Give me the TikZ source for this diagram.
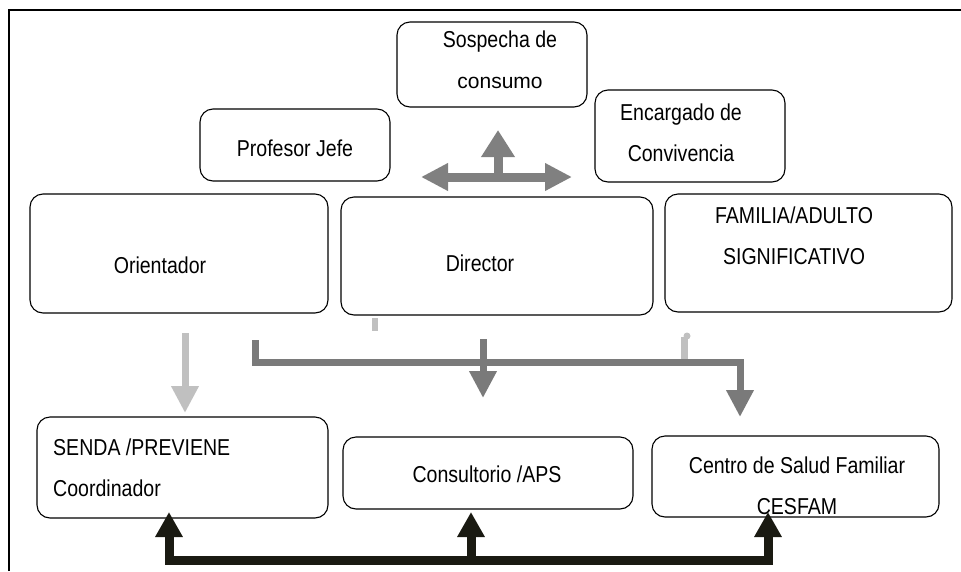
\documentclass[tikz,border=0pt]{standalone}
\usepackage{fontspec}
\setmainfont{Liberation Sans}[FakeStretch=0.85]
\newfontfamily\plainfont{Liberation Sans}
\usetikzlibrary{arrows.meta}
\definecolor{midgray}{HTML}{808080}
\definecolor{darkgray2}{HTML}{7A7A7A}
\definecolor{lightgray2}{HTML}{C0C0C0}
\definecolor{nearblack}{HTML}{1A1A12}
\tikzset{
  Gtip/.tip={Triangle[width=26pt,length=27pt]},
  Utip/.tip={Triangle[width=32pt,length=27pt]},
  Btip/.tip={Triangle[width=26pt,length=25pt]}}
\begin{document}
\begin{tikzpicture}[x=1pt,y=-1pt,
  box/.style={draw=black, line width=1.1pt, rounded corners=13pt, inner sep=0pt},
  txt/.style={font=\fontsize{23}{41}\selectfont, inner sep=0pt, align=center},
  ltxt/.style={font=\fontsize{23}{41}\selectfont, inner sep=0pt, align=left},
  grayarrow/.style={draw=midgray, line width=9pt},
  darkarrow/.style={draw=darkgray2, line width=7pt},
  lightarrow/.style={draw=lightgray2, line width=7pt},
  blackarrow/.style={draw=nearblack, line width=9pt}]
\useasboundingbox (0,0) rectangle (961,571);
% frame
\draw[line width=2pt] (9,571) -- (9,10) -- (961,10);
% boxes
\node[box, minimum width=190pt, minimum height=85pt] (sosp) at (492,64.5) {};
\node[box, minimum width=190pt, minimum height=72pt] (prof) at (295,145) {};
\node[box, minimum width=190pt, minimum height=92pt] (enc) at (690,136) {};
\node[box, minimum width=298pt, minimum height=119pt] (ori) at (179,253.5) {};
\node[box, minimum width=312pt, minimum height=118pt] (dir) at (497,256) {};
\node[box, minimum width=287pt, minimum height=118pt] (fam) at (808.5,253) {};
\node[box, minimum width=291pt, minimum height=101pt] (senda) at (182.5,467.5) {};
\node[box, minimum width=290pt, minimum height=72pt] (cons) at (488,473) {};
\node[box, minimum width=287pt, minimum height=81pt] (cent) at (795.5,476.5) {};
% texts
\node[txt] (tsosp) at (500,59.5) {Sospecha de\\{\plainfont\fontsize{21}{41}\selectfont consumo}};
\node[txt] (tprof) at (295,148) {Profesor Jefe};
\node[txt] (tenc) at (681,132.5) {Encargado de\\Convivencia};
\node[txt] (tori) at (160,265) {Orientador};
\node[txt] (tdir) at (480,263) {Director};
\node[txt] (tfam) at (794,236) {FAMILIA/ADULTO\\SIGNIFICATIVO};
\node[ltxt, anchor=west] (tsenda) at (53,467.5) {SENDA /PREVIENE\\Coordinador};
\node[txt] (tcons) at (487,474) {Consultorio /APS};
\node[txt] (tcent) at (797,486) {Centro de Salud Familiar\\CESFAM};
% gray cross arrows near top
\coordinate (hub) at (498,177);
\coordinate (hl) at (421,177);
\coordinate (hr) at (572,177);
\coordinate (hu) at (498,130);
\draw[grayarrow, Gtip-Gtip] (hl) -- (hr);
\draw[grayarrow, -Utip] (hub) -- (hu);
% light gray pieces
\coordinate (o1) at (185,333);
\coordinate (o2) at (185,413);
\draw[lightarrow, -Gtip] (o1) -- (o2);
\fill[lightgray2] (372,318) rectangle (378,331);
\coordinate (s1) at (684,337);
\coordinate (s2) at (684,366);
\draw[lightarrow] (s1) -- (s2);
\fill[lightgray2] (687,336) circle (3.5pt);
% dark gray distribution
\coordinate (d0) at (255,340);
\coordinate (d1) at (255,362);
\coordinate (d2) at (740,362);
\coordinate (d3) at (740,417);
\draw[darkarrow, -Gtip] (d0) -- (d1) -- (d2) -- (d3);
\coordinate (m0) at (483,339);
\coordinate (m1) at (483,398);
\draw[darkarrow, -Gtip] (m0) -- (m1);
% black bottom arrows
\coordinate (bt1) at (169,512);
\coordinate (b1) at (169,560);
\coordinate (b2) at (471,560);
\coordinate (b3) at (768,560);
\coordinate (bt2) at (471,512);
\coordinate (bt3) at (768,512);
\draw[blackarrow, Btip-Btip] (bt1) -- (b1) -- (b3) -- (bt3);
\draw[blackarrow, -Btip] (b2) -- (bt2);
\end{tikzpicture}
\end{document}
